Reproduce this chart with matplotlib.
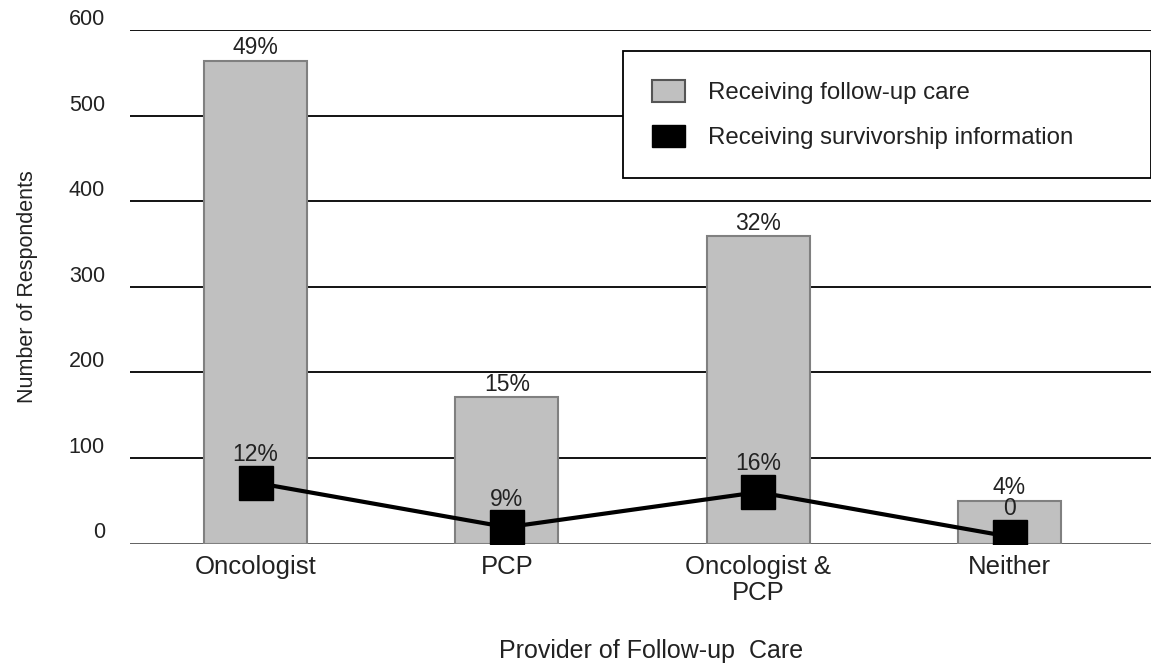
import matplotlib.pyplot as plt
from matplotlib.patches import Patch

# Data
providers = ['Oncologist', 'PCP', 'Oncologist &\nPCP', 'Neither']
followUp = [564, 171, 359, 50]
followUpPct = ['49%', '15%', '32%', '4%']
survInfo = [71, 19, 60, 8]
survInfoPct = ['12%', '9%', '16%', '0']
yTicks = [0, 100, 200, 300, 400, 500, 600]

plt.rcParams['font.family'] = ['Liberation Sans', 'DejaVu Sans']
textColor = '#222222'

fig = plt.figure(figsize=(11.51, 6.65), dpi=100)
ax = fig.add_axes([130 / 1151, 1 - 543.5 / 665, 1 - 130 / 1151, (543.5 - 30) / 665])

x = list(range(len(providers)))

# Gridlines behind bars
for t in yTicks:
    ax.axhline(t, color='black' if t else '#555555', linewidth=1.3, zorder=1)

ax.bar(x, followUp, width=0.41, color='#c0c0c0', edgecolor='#808080',
       linewidth=1.5, zorder=2)
ax.plot(x, survInfo, color='black', linewidth=3, marker='s', markersize=25,
        zorder=3)

# Percent labels
for xi, v, s in zip(x, followUp, followUpPct):
    ax.annotate(s, (xi, v), xytext=(0, 1), textcoords='offset points',
                ha='center', va='bottom', fontsize=16.5, color=textColor)
for xi, v, s in zip(x, survInfo, survInfoPct):
    ax.annotate(s, (xi, v), xytext=(0, 12), textcoords='offset points',
                ha='center', va='bottom', fontsize=16.5, color=textColor, zorder=4)

ax.set_xlim(-0.5, 3.563)
ax.set_ylim(0, 600)
ax.set_xticks(x)
ax.set_xticklabels(providers, fontsize=18.5, color=textColor, linespacing=1.1)
ax.set_yticks(yTicks)
ax.set_yticklabels([str(t) for t in yTicks], fontsize=15.5, color=textColor)
for lbl in ax.get_yticklabels():
    lbl.set_va('bottom')
ax.tick_params(axis='x', length=0, pad=8)
ax.tick_params(axis='y', length=0, pad=18)
for s in ax.spines.values():
    s.set_visible(False)

ax.set_ylabel('Number of Respondents', fontsize=15.5, color=textColor, labelpad=22)
fig.text(651 / 1151, 2 / 665, 'Provider of Follow-up  Care', ha='center',
         va='bottom', fontsize=18, color=textColor)

# Legend
handles = [Patch(facecolor='#c0c0c0', edgecolor='#555555', linewidth=1.5),
           Patch(facecolor='black', edgecolor='black')]
labels = ['Receiving follow-up care', 'Receiving survivorship information']
leg = ax.legend(handles, labels, loc='upper left', mode='expand',
                bbox_to_anchor=(623 / 1151, 1 - 174 / 665, 1 - 623 / 1151, 123 / 665),
                bbox_transform=fig.transFigure, fontsize=17.3, frameon=True,
                fancybox=False, edgecolor='black', framealpha=1,
                borderpad=1.2, labelspacing=0.85, handlelength=1.4,
                handleheight=1.05, handletextpad=0.95, borderaxespad=0)
leg.get_frame().set_linewidth(1.3)
for t in leg.get_texts():
    t.set_color(textColor)
leg.set_zorder(5)

fig.savefig('out.png', dpi=100)
